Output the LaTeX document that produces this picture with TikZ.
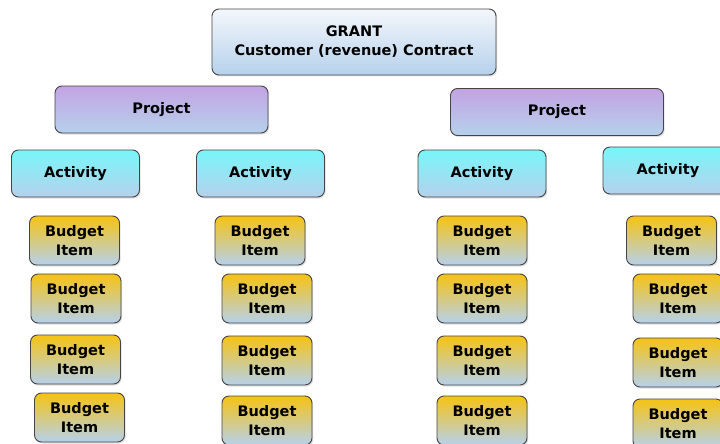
\documentclass[tikz,border=0pt]{standalone}
\usepackage{fontspec}
\setmainfont{DejaVu Sans}
\usetikzlibrary{shadows}
\definecolor{edge}{HTML}{454545}
\definecolor{paleblue}{HTML}{B6D1EC}
\definecolor{granttop}{HTML}{F4F7FB}
\definecolor{projtop}{HTML}{C3A3E2}
\definecolor{acttop}{HTML}{78F6F9}
\definecolor{budtop}{HTML}{F6C313}
\tikzset{
  box/.style={draw=edge, line width=0.9pt, rounded corners=7pt, align=center,
    font=\bfseries\fontsize{14.5}{19}\selectfont, text=black, inner sep=0pt,
    drop shadow={shadow xshift=1.2pt, shadow yshift=-1.5pt, fill=black!25, opacity=0.5}},
  grantbox/.style={box, top color=granttop, bottom color=paleblue, minimum width=284pt, minimum height=66pt},
  projbox/.style={box, top color=projtop, bottom color=paleblue, minimum width=213pt, minimum height=47pt},
  actbox/.style={box, top color=acttop, bottom color=paleblue, minimum width=128pt, minimum height=47pt},
  budbox/.style={box, top color=budtop, bottom color=paleblue, minimum width=90pt, minimum height=49pt,
    font=\bfseries\fontsize{14.5}{19}\selectfont},
}
\begin{document}
\begin{tikzpicture}[x=1pt,y=-1pt]
\useasboundingbox (0,0) rectangle (720,444);
\node[grantbox] (grant) at (354,42) {GRANT\\Customer (revenue) Contract};
\node[projbox] (p1) at (161.5,109.5) {Project};
\node[projbox] (p2) at (557,112) {Project};
\node[actbox] (a1) at (75.5,173.5) {Activity};
\node[actbox] (a2) at (260.5,173.5) {Activity};
\node[actbox] (a3) at (482,173.5) {Activity};
\node[actbox, minimum width=130pt] (a4) at (668,170.5) {Activity};
% column 1
\node[budbox] (b11) at (74.5,240.5) {Budget\\Item};
\node[budbox] (b12) at (76,298.5) {Budget\\Item};
\node[budbox] (b13) at (75.5,359.5) {Budget\\Item};
\node[budbox] (b14) at (79.5,417.5) {Budget\\Item};
% column 2
\node[budbox] (b21) at (260,240.5) {Budget\\Item};
\node[budbox] (b22) at (267,298.5) {Budget\\Item};
\node[budbox] (b23) at (267,360.5) {Budget\\Item};
\node[budbox] (b24) at (267,420.5) {Budget\\Item};
% column 3
\node[budbox] (b31) at (482,240.5) {Budget\\Item};
\node[budbox] (b32) at (482,298.5) {Budget\\Item};
\node[budbox] (b33) at (482,360.5) {Budget\\Item};
\node[budbox] (b34) at (482,420.5) {Budget\\Item};
% column 4
\node[budbox] (b41) at (671.5,240.5) {Budget\\Item};
\node[budbox] (b42) at (678,298.5) {Budget\\Item};
\node[budbox] (b43) at (678,362.5) {Budget\\Item};
\node[budbox] (b44) at (678,423.5) {Budget\\Item};
\end{tikzpicture}
\end{document}
